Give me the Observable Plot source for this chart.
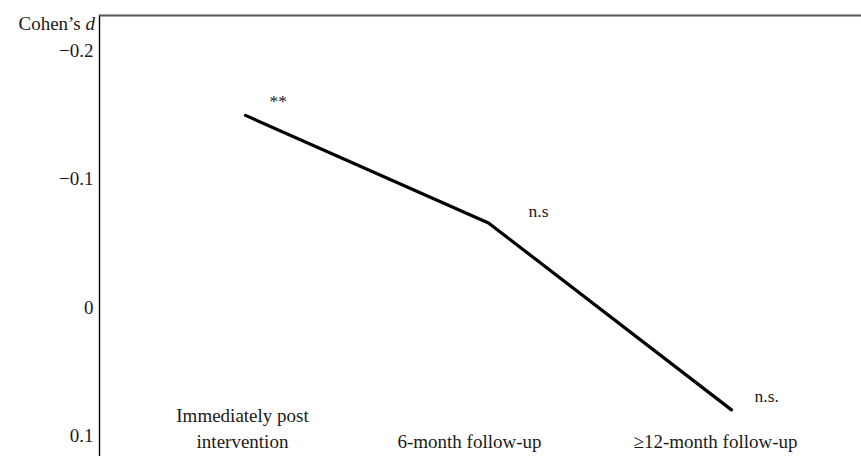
<!DOCTYPE html>
<html><head><meta charset="utf-8">
<script src="https://cdn.jsdelivr.net/npm/d3@7"></script>
<script src="https://cdn.jsdelivr.net/npm/@observablehq/plot@0.6"></script>
<style>body{margin:0;background:#fff} svg{display:block}</style>
</head><body><div id="chart"></div>
<script>
const categories = ["Immediately post intervention", "6-month follow-up", "≥12-month follow-up"];
const categoryLabels = ["Immediately post\nintervention", "6-month follow-up", "≥12-month follow-up"];
const cohensD = [-0.15, -0.066, 0.08];
const significance = ["**", "n.s", "n.s."];
const yTicks = [-0.2, -0.1, 0, 0.1];
const yDomain = [-0.228, 0.1164];

const data = categories.map((c, i) => ({category: c, label: categoryLabels[i], d: cohensD[i], sig: significance[i]}));

const labelDx = [-3, -19, -16];
const sigDx = [24, 40, 23];
const sigDy = [-14, -12, -13];

const font = "'Liberation Serif', 'Times New Roman', serif";

const marks = [
  Plot.frame({anchor: "left", stroke: "#000", strokeWidth: 1.4}),
  Plot.ruleY([yDomain[0]], {stroke: "#555", strokeWidth: 2}),
  Plot.axisY({ticks: yTicks, tickSize: 0, tickPadding: 6, label: null, fontSize: 19, tickFormat: d3.format("")}),
  Plot.line(data, {x: "category", y: "d", stroke: "#000", strokeWidth: 3.2})
];
data.forEach((row, i) => {
  marks.push(Plot.text([row], {x: "category", text: "label", frameAnchor: "bottom", lineAnchor: "bottom", dy: -9, dx: labelDx[i], lineHeight: 1.32, fontSize: 19, fill: "#1a1a1a"}));
  marks.push(Plot.text([row], {x: "category", y: "d", text: "sig", textAnchor: "start", dx: sigDx[i], dy: sigDy[i], fontSize: 17.5, fill: "#1a1a1a"}));
});

const chart = Plot.plot({
  width: 861,
  height: 456,
  marginLeft: 99,
  marginRight: 0,
  marginTop: 15,
  marginBottom: 0,
  style: {fontFamily: font, fontSize: "19px", color: "#1a1a1a", background: "#fff"},
  x: {type: "point", domain: categories, padding: 0, insetLeft: 145, insetRight: 130, axis: null},
  y: {domain: yDomain, reverse: true},
  marks
});

const svg = d3.select(chart);
const t = svg.append("text")
  .attr("x", 95).attr("y", 30)
  .attr("text-anchor", "end")
  .attr("font-family", font)
  .attr("font-size", 19)
  .attr("fill", "#1a1a1a");
t.append("tspan").text("Cohen’s ");
t.append("tspan").attr("font-style", "italic").text("d");

document.getElementById("chart").appendChild(chart);
</script>
</body></html>
